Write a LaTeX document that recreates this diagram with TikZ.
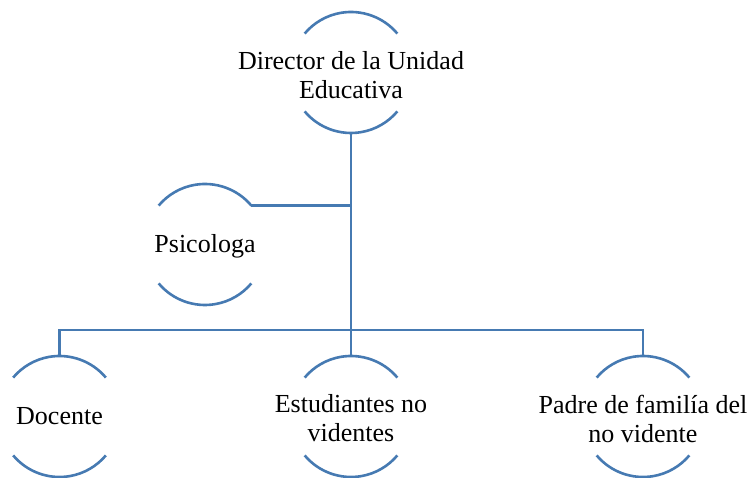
\documentclass[tikz,border=0pt]{standalone}
\usepackage{fontspec}
\setmainfont{Liberation Serif}
\usepackage{tikz}
\definecolor{orgblue}{RGB}{70,122,178}

\begin{document}
\begin{tikzpicture}[
  x=1pt, y=1pt,
  role/.style={align=center, inner sep=0pt, font=\fontsize{26}{29}\selectfont},
  arcline/.style={draw=orgblue, line width=2.6pt},
  link/.style={draw=orgblue, line width=2.6pt}
]
\useasboundingbox (0,0) rectangle (751,478);

% --- Cargos (centros de los circulos) ---
\node[role] (dir) at (351,403) {Director de la Unidad\\Educativa};
\node[role] (psi) at (205,232) {Psicologa};
\node[role] (doc) at (59.5,61.5) {Docente};
\node[role] (est) at (351,59.5) {Estudiantes no\\videntes};
\node[role] (pad) at (643,59.5) {Padre de familía del\\no vidente};

% --- Arcos arriba y abajo de cada cargo ---
\foreach \n/\dy in {dir/2.5,psi/1.5,doc/0,est/2,pad/2} {
  \draw[arcline] ([shift={(40:60.5pt)},yshift=\dy pt]\n.center) arc[start angle=40, end angle=140, radius=60.5pt];
  \draw[arcline] ([shift={(220:60.5pt)},yshift=\dy pt]\n.center) arc[start angle=220, end angle=320, radius=60.5pt];
}

% --- Lineas de mando ---
\coordinate (psiend) at ([shift={(40:60.5pt)},yshift=1.5pt]psi.center);
\draw[link] ([yshift=-58pt]dir.center) -- ([yshift=62.5pt]est.center);
\draw[link] (psiend) -- (psiend -| dir.center);
\draw[link] ([yshift=60.5pt]doc.center) |- ([yshift=88.5pt]pad.center) -- ([yshift=62.5pt]pad.center);

\end{tikzpicture}
\end{document}
